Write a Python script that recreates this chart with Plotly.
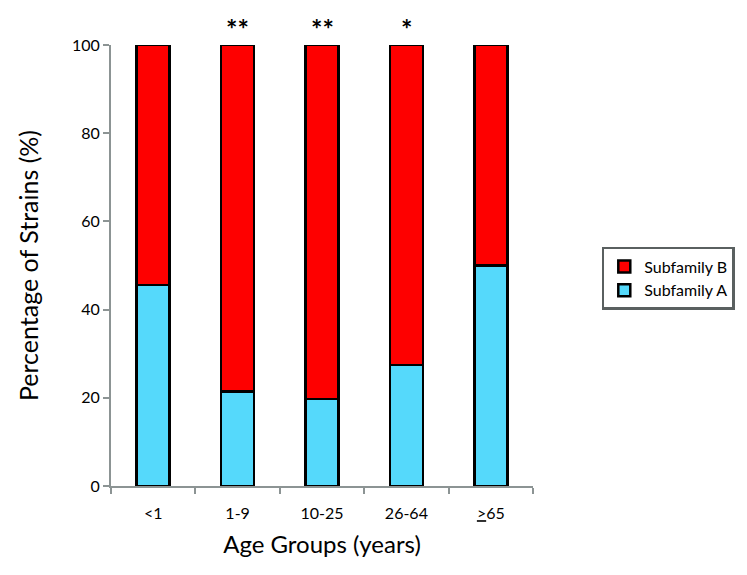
import plotly.graph_objects as go

age_groups = ["<1", "1-9", "10-25", "26-64", "<u>></u>65"]
subfamily_a = [45.6, 21.4, 19.7, 27.4, 50.0]
subfamily_b = [100 - v for v in subfamily_a]
stars = ["", "**", "**", "*", ""]

FONT = "Lato, 'Open Sans', sans-serif"
AXIS_GREY = "#8c9494"

fig = go.Figure()
fig.add_trace(go.Bar(
    x=age_groups, y=subfamily_a, name="Subfamily A", legendgroup="a",
    marker=dict(color="#55d9fb", line=dict(color="black", width=2.5)),
    width=0.39,
))
fig.add_trace(go.Bar(
    x=age_groups, y=subfamily_b, name="Subfamily B", legendgroup="b",
    marker=dict(color="#fe0000", line=dict(color="black", width=2.5)),
    width=0.39,
))

# significance stars above the bars
for grp, s in zip(age_groups, stars):
    if s:
        fig.add_annotation(x=grp, y=100, yref="y", text="<b>" + s + "</b>", showarrow=False,
                           yshift=17, font=dict(size=27, color="black", family=FONT))

fig.update_layout(
    barmode="stack",
    width=747, height=575,
    margin=dict(l=103, r=222, t=37, b=97),
    plot_bgcolor="white", paper_bgcolor="white",
    font=dict(family=FONT, color="black"),
    showlegend=True,
    legend=dict(
        x=1.163, y=0.542, xanchor="left", yanchor="top",
        traceorder="reversed",
        bordercolor="#5a6060", borderwidth=2.5,
        font=dict(size=16, family=FONT),
        tracegroupgap=12,
    ),
    xaxis=dict(
        title=dict(text="Age Groups (years)", font=dict(size=24), standoff=15),
        tickfont=dict(size=16),
        ticklabelstandoff=12,
        showline=True, linecolor=AXIS_GREY, linewidth=2,
        ticks="outside", tickson="boundaries", ticklen=6, tickcolor=AXIS_GREY, tickwidth=2,
        showgrid=False,
    ),
    yaxis=dict(
        title=dict(text="Percentage of Strains (%)", font=dict(size=25), standoff=26),
        range=[0, 100], dtick=20,
        tickfont=dict(size=16),
        showline=True, linecolor=AXIS_GREY, linewidth=2,
        ticks="outside", ticklen=6, tickcolor=AXIS_GREY, tickwidth=2,
        showgrid=False, zeroline=False,
    ),
)

fig.write_html("out.html")
